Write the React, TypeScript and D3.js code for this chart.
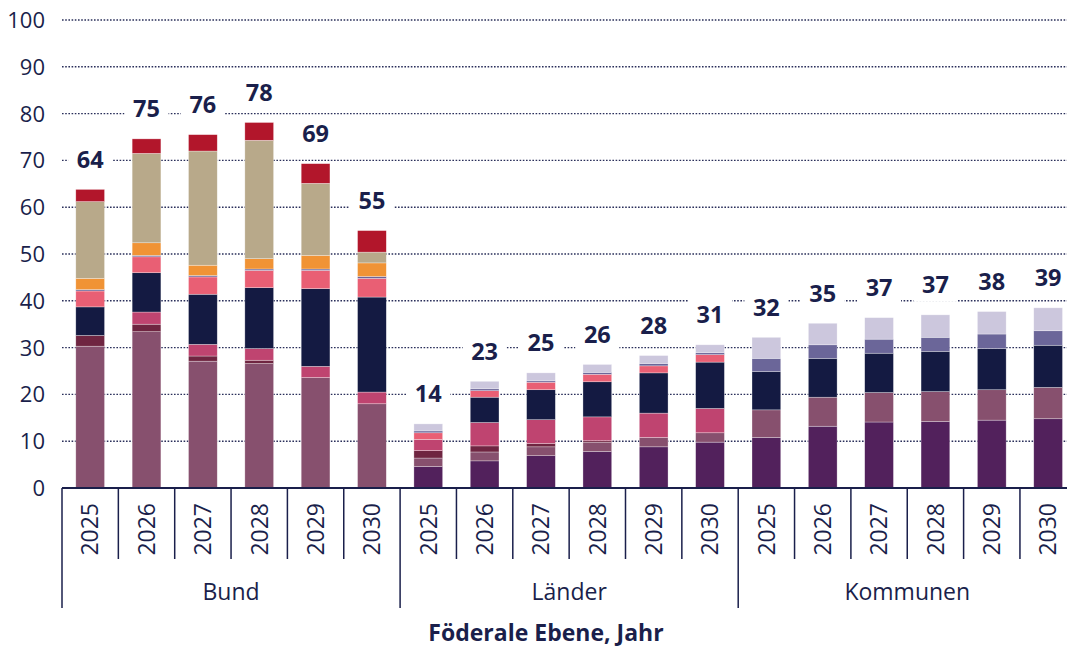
import React from "react";
import * as d3 from "d3";

const groups = ["Bund", "Länder", "Kommunen"];
const years = ["2025", "2026", "2027", "2028", "2029", "2030"];
const totals = [64, 75, 76, 78, 69, 55, 14, 23, 25, 26, 28, 31, 32, 35, 37, 37, 38, 39];

// series values, bottom to top, 18 values each (Bund x6, Länder x6, Kommunen x6)
const sDarkPurple = [0, 0, 0, 0, 0, 0, 4.6, 5.8, 6.9, 7.8, 8.8, 9.8, 10.8, 13.2, 14.1, 14.2, 14.5, 14.8];
const sMauve = [30.3, 33.4, 27.1, 26.6, 23.6, 18.0, 1.8, 1.9, 1.9, 2.0, 2.0, 2.0, 5.9, 6.2, 6.3, 6.4, 6.5, 6.7];
const sMaroon = [2.3, 1.6, 1.1, 0.7, 0, 0, 1.6, 1.3, 0.7, 0.3, 0, 0, 0, 0, 0, 0, 0, 0];
const sMagenta = [0, 2.6, 2.5, 2.5, 2.4, 2.5, 2.4, 5.0, 5.1, 5.1, 5.2, 5.2, 0, 0, 0, 0, 0, 0];
const sNavy = [6.1, 8.4, 10.7, 13.0, 16.6, 20.3, 0, 5.4, 6.4, 7.5, 8.6, 9.9, 8.2, 8.3, 8.4, 8.6, 8.8, 9.0];
const sPink = [3.4, 3.4, 3.7, 3.7, 3.9, 4.0, 1.4, 1.4, 1.6, 1.6, 1.5, 1.6, 0, 0, 0, 0, 0, 0];
const sSlate = [0.3, 0.3, 0.3, 0.3, 0.3, 0.4, 0.4, 0.4, 0.3, 0.4, 0.5, 0.4, 2.8, 2.9, 3.0, 3.0, 3.1, 3.1];
const sOrange = [2.4, 2.7, 2.2, 2.2, 2.9, 2.9, 0, 0, 0, 0, 0, 0, 0, 0, 0, 0, 0, 0];
const sTan = [16.4, 19.1, 24.4, 25.3, 15.4, 2.3, 0, 0, 0, 0, 0, 0, 0, 0, 0, 0, 0, 0];
const sRed = [2.6, 3.1, 3.5, 3.8, 4.2, 4.6, 0, 0, 0, 0, 0, 0, 0, 0, 0, 0, 0, 0];
const sLavender = [0, 0, 0, 0, 0, 0, 1.5, 1.6, 1.7, 1.7, 1.7, 1.7, 4.5, 4.6, 4.6, 4.8, 4.8, 4.9];

const seriesKeys = ["darkPurple", "mauve", "maroon", "magenta", "navy", "pink", "slate", "orange", "tan", "red", "lavender"];
const seriesValues = [sDarkPurple, sMauve, sMaroon, sMagenta, sNavy, sPink, sSlate, sOrange, sTan, sRed, sLavender];
const seriesColors = ["#52215c", "#87506e", "#6f2541", "#bf4470", "#141a42", "#e95f74", "#6b6699", "#f09335", "#b8a98a", "#b2162b", "#ccc7dd"];

const yTicks = [0, 10, 20, 30, 40, 50, 60, 70, 80, 90, 100];

const TEXT = "#1a1f4b";
const FONT = "'Open Sans', sans-serif";

export default function App() {
  const W = 1067, H = 648;
  const x0 = 62, step = 56.35;
  const keys = groups.flatMap((g) => years.map((y) => g + "|" + y));
  const x = d3.scaleBand<string>().domain(keys).range([x0, x0 + step * keys.length]).paddingInner(0.49).paddingOuter(0.245);
  const y = d3.scaleLinear().domain([0, 100]).range([488, 20]);

  const rows = keys.map((k, i) => {
    const r: any = { key: k };
    seriesKeys.forEach((s, j) => (r[s] = seriesValues[j][i]));
    return r;
  });
  const stacked = d3.stack<any>().keys(seriesKeys)(rows);
  const color = d3.scaleOrdinal<string, string>().domain(seriesKeys).range(seriesColors);

  const groupBounds = groups.map((g) => {
    const first = x(g + "|" + years[0])!;
    const last = x(g + "|" + years[years.length - 1])!;
    const pad = (step - x.bandwidth()) / 2;
    return { g, x1: first - pad, x2: last + x.bandwidth() + pad };
  });

  return (
    <svg width={W} height={H} style={{ position: "absolute", left: 0, top: 0, background: "#fff" }} fontFamily={FONT}>
      {/* gridlines */}
      {yTicks.filter((t) => t > 0).map((t) => (
        <line key={t} x1={x0} x2={W} y1={y(t)} y2={y(t)} stroke="#2a2f5a" strokeWidth={1.4} strokeDasharray="1.6,1.6" />
      ))}
      {/* y tick labels */}
      {yTicks.map((t) => (
        <text key={t} x={45} y={y(t)} dy="0.36em" textAnchor="end" fontSize={22} fill={TEXT}>
          {t}
        </text>
      ))}
      {/* bars */}
      {stacked.map((layer) => (
        <g key={layer.key} fill={color(layer.key)}>
          {layer.map((d, i) =>
            d[1] - d[0] > 0 ? (
              <rect key={i} x={x(keys[i])} y={y(d[1])} width={x.bandwidth()} height={y(d[0]) - y(d[1])} stroke="#ffffff" strokeOpacity={0.5} strokeWidth={0.6} />
            ) : null
          )}
        </g>
      ))}
      {/* total labels */}
      {keys.map((k, i) => {
        const sum = d3.sum(seriesValues, (s) => s[i]);
        const cx = x(k)! + x.bandwidth() / 2;
        const cy = y(sum) - 30;
        return (
          <g key={k}>
            <rect x={cx - 22} y={cy - 17} width={44} height={34} fill="#fff" />
            <text x={cx} y={cy} dy="0.36em" textAnchor="middle" fontWeight="bold" fontSize={23.5} fill={TEXT}>
              {totals[i]}
            </text>
          </g>
        );
      })}
      {/* x axis line */}
      <line x1={x0} x2={W} y1={488} y2={488} stroke={TEXT} strokeWidth={2} />
      {/* year separators */}
      {keys.map((k, i) => {
        const xl = x(k)! - (step - x.bandwidth()) / 2;
        return i % years.length === 0 ? null : <line key={k} x1={xl} x2={xl} y1={488} y2={559} stroke={TEXT} strokeWidth={1.5} />;
      })}
      {/* group separators */}
      {groupBounds.map((b, i) => (
        <g key={b.g}>
          {i === 0 && <line x1={b.x1} x2={b.x1} y1={488} y2={608} stroke={TEXT} strokeWidth={1.5} />}
          <line x1={b.x2} x2={b.x2} y1={488} y2={608} stroke={TEXT} strokeWidth={1.5} />
          <text x={(b.x1 + b.x2) / 2} y={600} textAnchor="middle" fontSize={23} fill={TEXT}>
            {b.g}
          </text>
        </g>
      ))}
      {/* year labels */}
      {keys.map((k) => {
        const cx = x(k)! + x.bandwidth() / 2;
        return (
          <text key={k} transform={`translate(${cx},503) rotate(-90)`} textAnchor="end" dy="0.36em" fontSize={23} fill={TEXT}>
            {k.split("|")[1]}
          </text>
        );
      })}
      {/* axis title */}
      <text x={546} y={641} textAnchor="middle" fontWeight="bold" fontSize={23} fill={TEXT}>
        Föderale Ebene, Jahr
      </text>
    </svg>
  );
}
